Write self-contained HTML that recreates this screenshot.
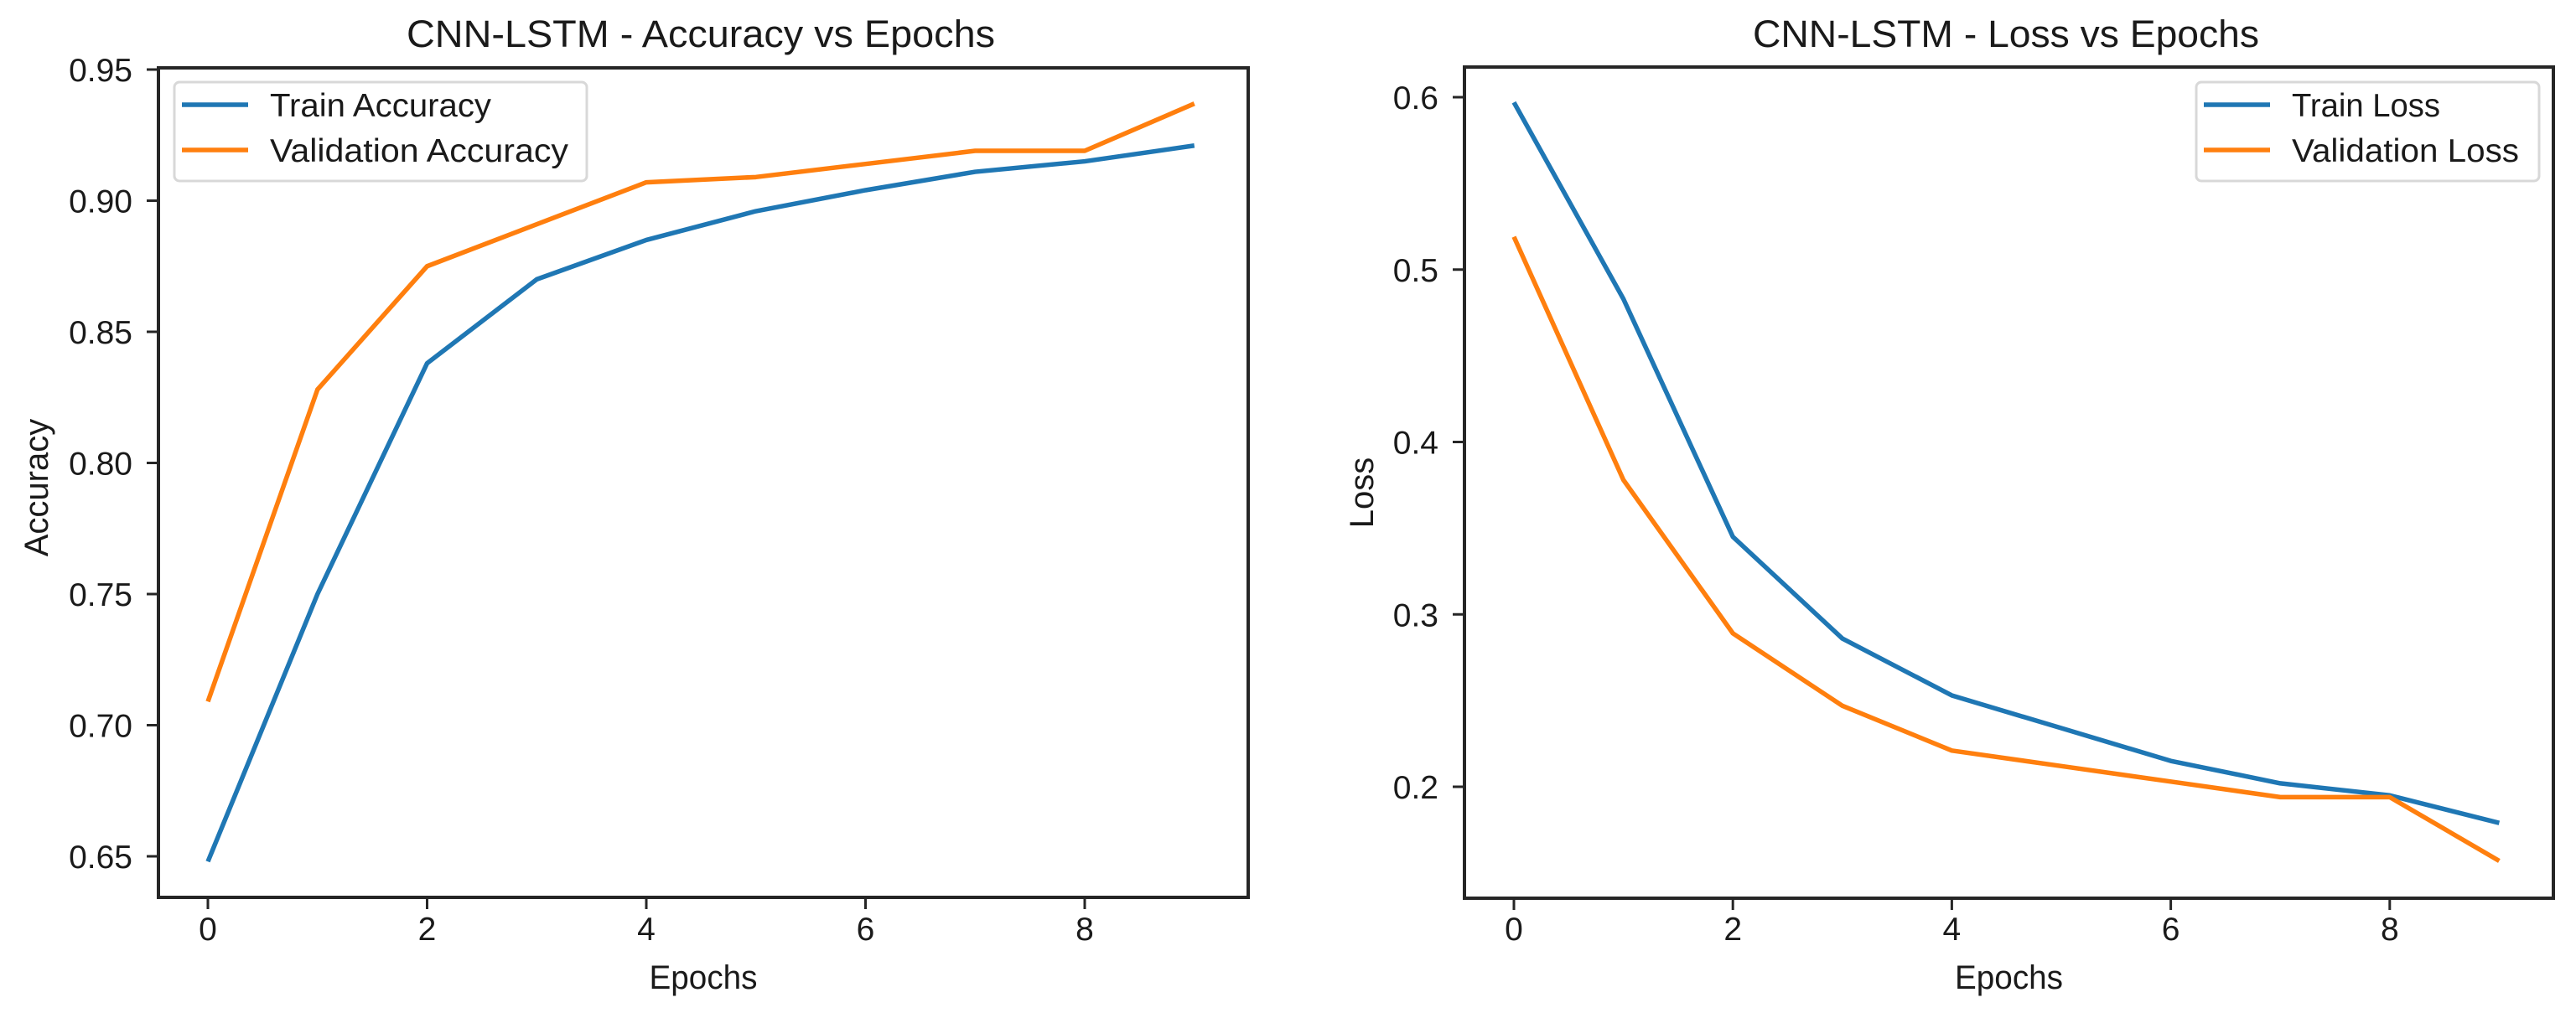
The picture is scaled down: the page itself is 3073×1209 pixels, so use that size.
<!DOCTYPE html>
<html><head><meta charset="utf-8"><style>
html,body{margin:0;padding:0;background:#fff}
svg{display:block}
text{font-family:"Liberation Sans","DejaVu Sans",sans-serif;fill:#1a1a1a}
</style></head><body>
<svg id="fig" width="3073" height="1209" viewBox="0 0 3073 1209" xmlns="http://www.w3.org/2000/svg"></svg>
<script>
const epochs = [0,1,2,3,4,5,6,7,8,9];
const trainAcc = [0.648,0.750,0.838,0.870,0.885,0.896,0.904,0.911,0.915,0.921];
const valAcc = [0.709,0.828,0.875,0.891,0.907,0.909,0.914,0.919,0.919,0.937];
const trainLoss = [0.597,0.483,0.345,0.286,0.253,0.234,0.215,0.202,0.195,0.179];
const valLoss = [0.519,0.378,0.289,0.247,0.221,0.212,0.203,0.194,0.194,0.157];
const xTicks = [0,2,4,6,8];
const accTicks = [0.65,0.70,0.75,0.80,0.85,0.90,0.95];
const lossTicks = [0.2,0.3,0.4,0.5,0.6];

const NS='http://www.w3.org/2000/svg';
const svg=document.getElementById('fig');
function mk(tag,attrs,parent){const e=document.createElementNS(NS,tag);for(const k in attrs)e.setAttribute(k,attrs[k]);(parent||svg).appendChild(e);return e;}

function panel(cfg){
  const g=mk('g',{});
  
  
  const sx=v=>cfg.x0+(v-0)*cfg.xStep;
  const sy=v=>cfg.yRef+(cfg.vRef-v)*cfg.yPer;
  cfg.series.forEach(s=>{
    const p=mk('polyline',{points:epochs.map((e,i)=>sx(e)+','+sy(s.vals[i])).join(' '),fill:'none',stroke:s.color,'stroke-width':5.5,'stroke-linejoin':'round'},g);
    
    
  });
  const fr=mk('rect',{x:cfg.L,y:cfg.T,width:cfg.R-cfg.L,height:cfg.B-cfg.T,fill:'none',stroke:'#262626','stroke-width':4},g);
  
  
  xTicks.forEach(t=>{
    const X=sx(t);
    mk('line',{x1:X,y1:cfg.B,x2:X,y2:cfg.B+14,stroke:'#262626','stroke-width':3},g);
    const tx=mk('text',{x:X,y:1122,'font-size':39,'text-anchor':'middle'},g);
    tx.textContent=t;
    
    
  });
  cfg.yTicks.forEach(t=>{
    const Y=sy(t);
    mk('line',{x1:cfg.L-14,y1:Y,x2:cfg.L,y2:Y,stroke:'#262626','stroke-width':3},g);
    const tx=mk('text',{x:cfg.L-31,y:Y+14,'font-size':39,'text-anchor':'end'},g);
    tx.textContent=t.toFixed(cfg.dec);
    
    
  });
  const ti=mk('text',{x:cfg.tx,y:56,'font-size':45,'text-anchor':'middle',textLength:cfg.tw,lengthAdjust:'spacingAndGlyphs'},g);
  ti.textContent=cfg.title;
  
  
  const xl=mk('text',{x:(cfg.L+cfg.R)/2,y:1180,'font-size':40,'text-anchor':'middle',textLength:129,lengthAdjust:'spacingAndGlyphs'},g);
  xl.textContent='Epochs';
  
  
  const yl=mk('text',{x:0,y:0,'font-size':40,'text-anchor':'middle',transform:`translate(${cfg.ylx},${cfg.yly}) rotate(-90)`},g);
  yl.textContent=cfg.ylabel;
  
  
  const lg=mk('g',{},g);
  
  
  mk('rect',{x:cfg.lx,y:98,width:cfg.lw,height:118,rx:6,fill:'#fff','fill-opacity':0.85,stroke:'#d8d8d8','stroke-width':3},lg);
  cfg.series.forEach((s,i)=>{
    const Y=125+i*54;
    mk('line',{x1:cfg.lx+9,y1:Y,x2:cfg.lx+88,y2:Y,stroke:s.color,'stroke-width':5.5},lg);
    const t=mk('text',{x:cfg.lx+114,y:Y+14,'font-size':39,textLength:s.lw,lengthAdjust:'spacingAndGlyphs'},lg);
    t.textContent=s.label;
    
    
  });
}

panel({name:'accuracy-chart',L:189,R:1489,T:81,B:1071,x0:248,xStep:130.75,yRef:83,vRef:0.95,yPer:156.5/0.05,
  yTicks:accTicks,dec:2,title:'CNN-LSTM - Accuracy vs Epochs',tx:836,tw:702,ylabel:'Accuracy',ylx:57,yly:582,
  lx:208,lw:492,
  series:[{id:'train-accuracy-line',vals:trainAcc,color:'#1f77b4',label:'Train Accuracy',lw:264},
          {id:'validation-accuracy-line',vals:valAcc,color:'#ff7f0e',label:'Validation Accuracy',lw:356}]});
panel({name:'loss-chart',L:1747,R:3046,T:80,B:1072,x0:1806,xStep:130.6,yRef:116,vRef:0.6,yPer:205.75/0.1,
  yTicks:lossTicks,dec:1,title:'CNN-LSTM - Loss vs Epochs',tx:2393,tw:604,ylabel:'Loss',ylx:1638,yly:588,
  lx:2620,lw:409,
  series:[{id:'train-loss-line',vals:trainLoss,color:'#1f77b4',label:'Train Loss',lw:177},
          {id:'validation-loss-line',vals:valLoss,color:'#ff7f0e',label:'Validation Loss',lw:271}]});
</script>
</body></html>
